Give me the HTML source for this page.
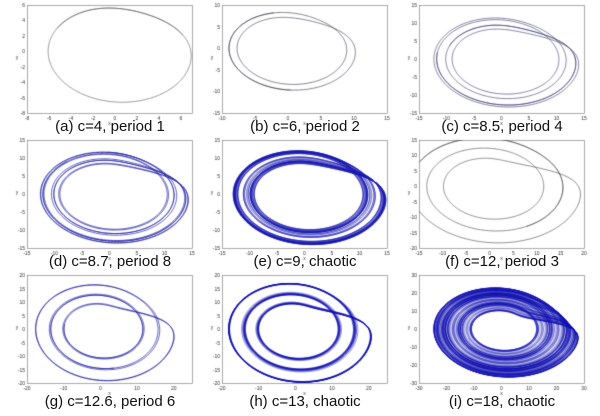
<!DOCTYPE html><html><head><style>
body{margin:0;width:600px;height:416px;background:#fff;overflow:hidden;position:relative;font-family:"Liberation Sans",sans-serif}
canvas{position:absolute;left:0;top:0}
.cap{position:absolute;font-size:15px;color:#111;text-align:center;width:200px;white-space:nowrap}
</style></head><body>
<canvas id="c" width="600" height="416"></canvas>
<div class="cap" style="left:10px;top:118px">(a) c=4, period 1</div>
<div class="cap" style="left:205px;top:118px">(b) c=6, period 2</div>
<div class="cap" style="left:402px;top:118px">(c) c=8.5, period 4</div>
<div class="cap" style="left:10px;top:253px">(d) c=8.7, period 8</div>
<div class="cap" style="left:205px;top:253px">(e) c=9, chaotic</div>
<div class="cap" style="left:402px;top:253px">(f) c=12, period 3</div>
<div class="cap" style="left:10px;top:393px">(g) c=12.6, period 6</div>
<div class="cap" style="left:205px;top:393px">(h) c=13, chaotic</div>
<div class="cap" style="left:402px;top:393px">(i) c=18, chaotic</div>
<script>
var g=document.getElementById('c').getContext('2d');
var cols=[[27,192],[222,387],[419,584]],rows=[[5,113],[140,248],[275,383]];
var P=[
[4,-8,7,-8,6,'#555',0.6,8],[6,-10,15,-15,10,'#334',0.6,15],[8.5,-15,15,-15,15,'#336',0.6,30],
[8.7,-15,15,-15,15,'#1a1aa0',0.7,60],[9,-15,15,-15,15,'#1a1ab0',0.35,500],[12,-15,20,-20,15,'#444',0.6,22],
[12.6,-20,25,-20,20,'#1818a0',0.7,45],[13,-20,25,-20,20,'#1010b0',0.45,250],[18,-30,30,-30,30,'#1010b0',0.3,1000]];
var A=0.1,B=0.1;
function f(s,c){return[-s[1]-s[2],s[0]+A*s[1],B+s[2]*(s[0]-c)];}
for(var k=0;k<9;k++){
 var p=P[k],X=cols[k%3],Y=rows[Math.floor(k/3)];
 var x0=X[0],x1=X[1],y0=Y[0],y1=Y[1];
 g.strokeStyle='#888';g.lineWidth=0.7;g.strokeRect(x0+.5,y0+.5,x1-x0,y1-y0);
 g.fillStyle='#333';g.font='5px Liberation Sans';g.textAlign='center';
 var sx=function(v){return x0+(v-p[1])/(p[2]-p[1])*(x1-x0)},sy=function(v){return y1-(v-p[3])/(p[4]-p[3])*(y1-y0)};
 var st=(p[2]-p[1])>40?10:(p[2]-p[1])>16?5:2;
 for(var v=p[1];v<=p[2]+1e-9;v+=st){g.fillText(v,sx(v),y1+7);}
 var sty=(p[4]-p[3])>40?10:(p[4]-p[3])>16?5:2;g.textAlign='right';
 for(var v=p[3];v<=p[4]+1e-9;v+=sty){g.fillText(v,x0-2,sy(v)+2);}
 g.textAlign='center';g.fillText('x',(x0+x1)/2,y1+12);g.fillText('y',x0-10,(y0+y1)/2);
 g.save();g.beginPath();g.rect(x0,y0,x1-x0,y1-y0);g.clip();
 var c=p[0],s=[0,-c,0],h=0.01;
 for(var i=0;i<200000;i++){s=rk(s,h,c);}
 g.strokeStyle=p[5];g.lineWidth=p[6];g.beginPath();
 var n=p[7]*100;g.moveTo(sx(s[0]),sy(s[1]));
 for(var i=0;i<n;i++){s=rk(s,h,c);if(i%2==0)g.lineTo(sx(s[0]),sy(s[1]));}
 g.stroke();g.restore();
}
function rk(s,h,c){var a=f(s,c),b=f(add(s,a,h/2),c),d=f(add(s,b,h/2),c),e=f(add(s,d,h),c);
return[s[0]+h/6*(a[0]+2*b[0]+2*d[0]+e[0]),s[1]+h/6*(a[1]+2*b[1]+2*d[1]+e[1]),s[2]+h/6*(a[2]+2*b[2]+2*d[2]+e[2])];}
function add(s,a,h){return[s[0]+a[0]*h,s[1]+a[1]*h,s[2]+a[2]*h];}
</script></body></html>
